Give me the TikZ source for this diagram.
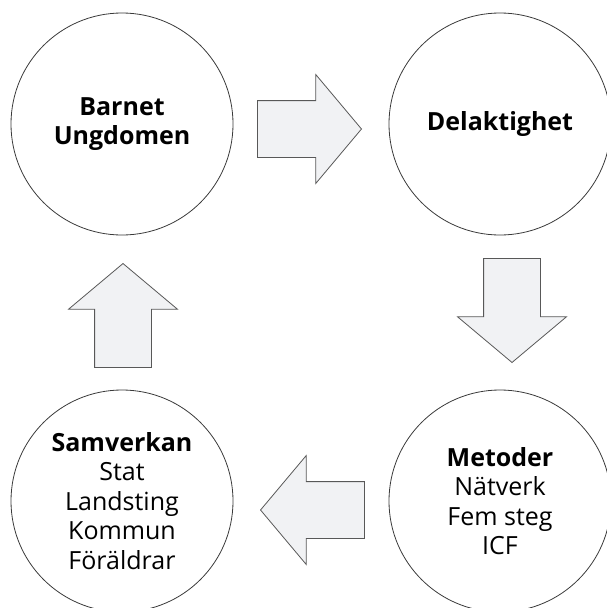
\documentclass[tikz,border=0pt]{standalone}
\usepackage{fontspec}
\setmainfont{Open Sans}
\usetikzlibrary{shapes.arrows}
\definecolor{arrowfill}{HTML}{F1F2F4}
\definecolor{linegray}{HTML}{3A3A3A}

\tikzset{
  stage/.style={draw=linegray, line width=0.8pt, circle, minimum size=222pt, inner sep=0pt, align=center, font=\fontsize{25}{29.5}\selectfont},
  flow/.style={single arrow, draw=linegray!85, fill=arrowfill, line width=0.8pt, minimum height=104pt, minimum width=108pt, inner sep=28pt, single arrow head extend=26pt, single arrow tip angle=100, anchor=tip},
}

\begin{document}
\begin{tikzpicture}[x=1pt,y=-1pt]
    \useasboundingbox (0,0) rectangle (607,608);
    \clip (0,0) rectangle (607,608);
    \node[stage] at (122,124) (barn) {\textbf{Barnet}\\\textbf{Ungdomen}};
    \node[stage] at (500,124) (del) {\textbf{Delaktighet}};
    \node[stage] at (500,501) (met) {\textbf{Metoder}\\Nätverk\\Fem steg\\ICF};
    \node[stage] at (122,501) (sam) {\textbf{Samverkan}\\Stat\\Landsting\\Kommun\\Föräldrar};
    % the four block arrows
    \node[flow] at (362,129) (barn-del) {};
    \node[flow,rotate=-90] at (512,363) (del-met) {};
    \node[flow,rotate=180] at (260,510) (met-sam) {};
    \node[flow,rotate=90] at (123,263) (sam-barn) {};
\end{tikzpicture}
\end{document}
